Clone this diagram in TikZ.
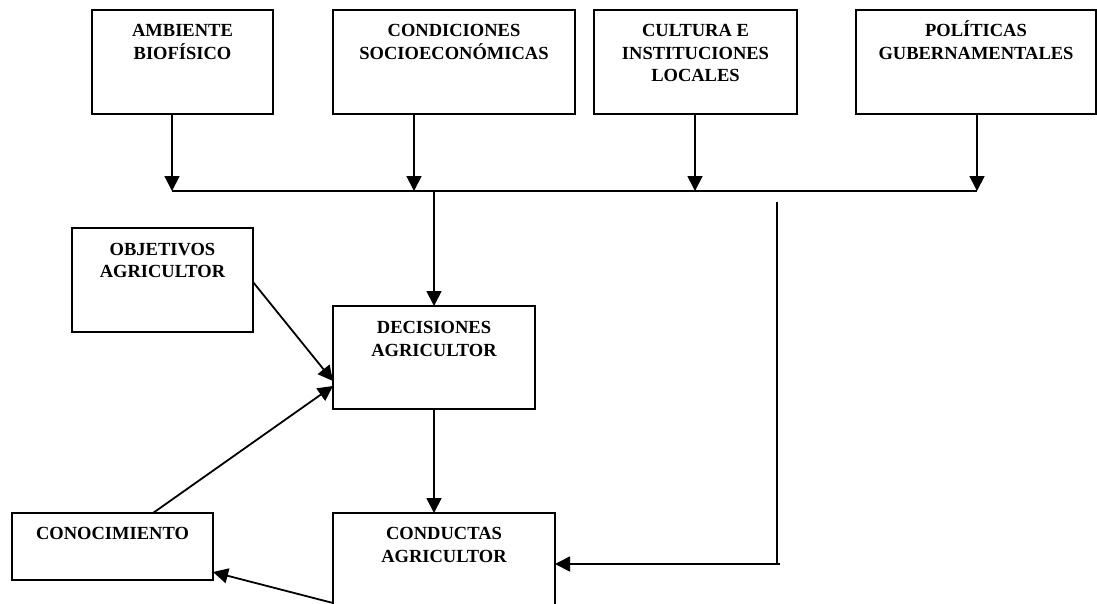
\documentclass[tikz,border=0pt]{standalone}
\usepackage{fontspec}
\setmainfont{Liberation Serif}
\usetikzlibrary{arrows.meta}
\begin{document}
\begin{tikzpicture}[x=1pt,y=-1pt,
  box/.style={draw,line width=2pt,inner sep=0pt,outer sep=0pt},
  txt/.style={anchor=north,align=center,inner sep=0pt,
    font=\fontsize{18.5}{22.5}\selectfont\bfseries},
  conn/.style={line width=1.8pt,-{Triangle[length=15pt,width=15pt]}},
  link/.style={line width=1.8pt}]
\clip (0,0) rectangle (1097,603);

% factors acting on the farmer
\node[box,minimum width=181pt,minimum height=104pt] (amb)  at (182.5,62) {};
\node[box,minimum width=242pt,minimum height=104pt] (soc)  at (454,62)   {};
\node[box,minimum width=203pt,minimum height=104pt] (cul)  at (695.5,62) {};
\node[box,minimum width=240pt,minimum height=104pt] (pol)  at (976,62)   {};
\node[txt] (ambT) at (182.5,18.5) {\rule{0pt}{18pt}AMBIENTE\\BIOFÍSICO};
\node[txt] (socT) at (454,18.5)   {\rule{0pt}{18pt}CONDICIONES\\SOCIOECONÓMICAS};
\node[txt] (culT) at (695.5,18.5) {\rule{0pt}{18pt}CULTURA E\\INSTITUCIONES\\LOCALES};
\node[txt] (polT) at (976,18.5)   {\rule{0pt}{18pt}POLÍTICAS\\GUBERNAMENTALES};

% farmer boxes
\node[box,minimum width=181pt,minimum height=104pt] (obj) at (162.5,280) {};
\node[box,minimum width=202pt,minimum height=103pt] (dec) at (434,357.5) {};
\node[box,minimum width=201pt,minimum height=67pt]  (kno) at (112.5,546.5) {};
\node[box,minimum width=222pt,minimum height=127pt] (cdt) at (444,576.5) {};
\node[txt] (objT) at (162.5,237) {\rule{0pt}{18pt}OBJETIVOS\\AGRICULTOR};
\node[txt] (decT) at (434,315.5) {\rule{0pt}{18pt}DECISIONES\\AGRICULTOR};
\node[txt] (knoT) at (112.5,521.5) {\rule{0pt}{18pt}CONOCIMIENTO};
\node[txt] (cdtT) at (444,521.5)   {\rule{0pt}{18pt}CONDUCTAS\\AGRICULTOR};

% collecting line
\coordinate (busL) at (172,191);
\coordinate (busR) at (977,191);
\draw[link] (busL) -- (busR);
\draw[conn] ([xshift=-10.5pt]amb.south) -- ([xshift=-10.5pt]amb.south |- busL);
\draw[conn] ([xshift=-40pt]soc.south)   -- ([xshift=-40pt]soc.south |- busL);
\draw[conn] ([xshift=-0.5pt]cul.south)  -- ([xshift=-0.5pt]cul.south |- busL);
\draw[conn] ([xshift=1pt]pol.south)     -- ([xshift=1pt]pol.south |- busL);
\draw[conn] (dec.north |- busL) -- (dec.north);

% influences on decisions
\draw[conn] ([yshift=-2pt]obj.east) -- ([yshift=-23.5pt]dec.west);
\draw[conn] ([xshift=40.5pt]kno.north) -- ([yshift=-28.5pt]dec.west);
\draw[conn] (dec.south) -- (dec.south |- cdt.north);

% feedback from the collecting line to behaviour
\coordinate (fbTop) at (777,202);
\coordinate (fbBot) at (777,564);
\draw[link] (fbTop) -- (fbBot);
\draw[conn] ([xshift=3pt]fbBot) -- (cdt.east |- fbBot);

% behaviour feeds knowledge
\draw[conn] ([yshift=-26.5pt]cdt.west) -- ([yshift=-25.5pt]kno.east);
\end{tikzpicture}
\end{document}
